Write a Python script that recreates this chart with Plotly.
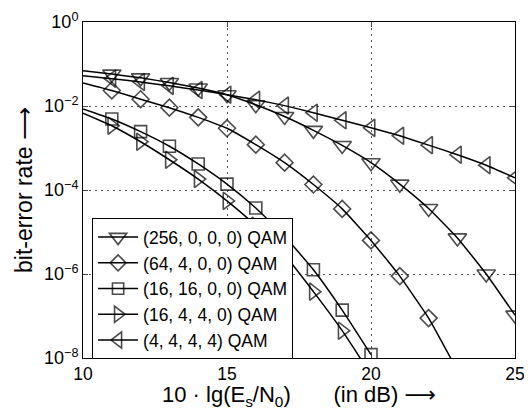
import plotly.graph_objects as go

# Es/N0 in dB
snr_db = [10, 11, 12, 13, 14, 15, 16, 17, 18, 19, 20, 21, 22, 23, 24, 25]

names = ["(256, 0, 0, 0) QAM", "(64, 4, 0, 0) QAM", "(16, 16, 0, 0) QAM",
         "(16, 4, 4, 0) QAM", "(4, 4, 4, 4) QAM"]

ber_256_0_0_0 = [0.0692, 0.0575, 0.0468, 0.0363, 0.0269, 0.0186, 0.0107, 5.62e-3,
                 2.63e-3, 1.15e-3, 4.47e-4, 1.38e-4, 3.63e-5, 7.24e-6, 1.0e-6, 1.05e-7]
ber_64_4_0_0 = [0.0355, 0.0234, 0.0145, 9.12e-3, 5.37e-3, 2.95e-3, 1.20e-3, 4.47e-4,
                1.35e-4, 3.55e-5, 6.31e-6, 8.91e-7, 8.91e-8, 5.01e-9, None, None]
ber_16_16_0_0 = [8.51e-3, 4.90e-3, 2.45e-3, 1.10e-3, 4.17e-4, 1.38e-4, 3.72e-5, 7.94e-6,
                 1.26e-6, 1.38e-7, 1.20e-8, None, None, None, None, None]
ber_16_4_4_0 = [6.76e-3, 3.39e-3, 1.41e-3, 5.25e-4, 1.82e-4, 5.50e-5, 1.41e-5, 2.82e-6,
                3.80e-7, 4.47e-8, 3.98e-9, None, None, None, None, None]
ber_4_4_4_4 = [0.0525, 0.0447, 0.0372, 0.0302, 0.0240, 0.0186, 0.0141, 0.0102,
               6.92e-3, 4.57e-3, 3.02e-3, 1.95e-3, 1.17e-3, 6.92e-4, 3.89e-4, 1.95e-4]

series = [ber_256_0_0_0, ber_64_4_0_0, ber_16_16_0_0, ber_16_4_4_0, ber_4_4_4_4]
symbols = ["triangle-down-open", "diamond-open", "square-open",
           "triangle-right-open", "triangle-left-open"]
msizes = [16, 13, 12, 15, 15]

y_tickvals = [1e-8, 1e-6, 1e-4, 1e-2, 1]
y_ticktext = ["10<sup>−8</sup>", "10<sup>−6</sup>", "10<sup>−4</sup>",
              "10<sup>−2</sup>", "10<sup>0</sup>"]
x_tickvals = [10, 15, 20, 25]

FONT = "Liberation Sans, Arial, Helvetica, sans-serif"
NB = "\u00a0"
ARROW = "<span style='font-family:DejaVu Sans'>\u27f6</span>"

fig = go.Figure()
for i, (name, ys, sym, ms) in enumerate(zip(names, series, symbols, msizes)):
    sizes = [0] + [ms] * (len(snr_db) - 1)
    fig.add_trace(go.Scatter(
        x=snr_db, y=ys, name=name, mode="lines+markers",
        line=dict(color="black", width=1.5, shape="spline", smoothing=0.4),
        marker=dict(symbol=sym, size=sizes, color="black",
                    line=dict(color="black", width=1.6)),
        legendgroup=f"g{i}",
    ))

x_title = ("10" + NB + "·" + NB + "lg(E<sub>s</sub>/N<sub>0</sub>)" + NB * 7
           + "(in" + NB + "dB)" + NB + ARROW)
y_title = NB * 3 + "bit-error rate " + ARROW

# page body adds an 8px offset, so the figure is sized/offset to compensate
fig.update_layout(
    width=524, height=402,
    margin=dict(l=75, r=17, t=14, b=52, autoexpand=False),
    paper_bgcolor="white", plot_bgcolor="white",
    font=dict(family=FONT, size=18, color="black"),
    showlegend=True,
    legend=dict(
        x=0.021, y=0.416, xanchor="left", yanchor="top",
        bgcolor="white", bordercolor="black", borderwidth=1,
        font=dict(size=17.5, family=FONT), itemwidth=40,
        traceorder="grouped", tracegroupgap=0,
    ),
    xaxis=dict(
        range=[10, 25], tickvals=x_tickvals, ticks="inside", ticklen=5,
        showline=True, linecolor="black", linewidth=1, mirror="ticks",
        showgrid=True, gridcolor="#555", griddash="2px,4px", gridwidth=1,
        zeroline=False, tickfont=dict(size=17.5), ticklabelstandoff=0,
        automargin=False,
        title=dict(text=x_title, font=dict(size=22), standoff=8),
    ),
    yaxis=dict(
        type="log", range=[-8, 0], tickvals=y_tickvals, ticktext=y_ticktext,
        ticks="inside", ticklen=5,
        showline=True, linecolor="black", linewidth=1, mirror="ticks",
        showgrid=True, gridcolor="#555", griddash="2px,4px", gridwidth=1,
        zeroline=False, tickfont=dict(size=18), automargin=False,
        title=dict(text=y_title, font=dict(size=23), standoff=4),
    ),
)

fig.write_html("out.html")
